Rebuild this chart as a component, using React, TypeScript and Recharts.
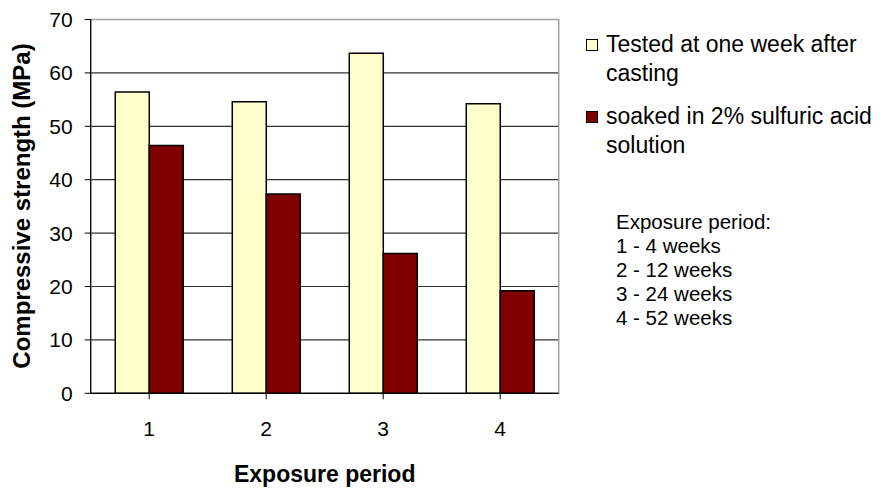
import { BarChart, Bar, XAxis, YAxis, CartesianGrid, ReferenceArea, Label } from 'recharts';

const periods = ['1', '2', '3', '4'];
const tested = [56.4, 54.6, 63.7, 54.2];
const soaked = [46.4, 37.3, 26.2, 19.2];
const seriesNames = ['Tested at one week after casting', 'soaked in 2% sulfuric acid solution'];
const seriesColors = ['#FFFFCC', '#800000'];
const yTicks = [0, 10, 20, 30, 40, 50, 60, 70];
const notes = ['Exposure period:', '1 - 4 weeks', '2 - 12 weeks', '3 - 24 weeks', '4 - 52 weeks'];

const data = periods.map((p, i) => ({ period: p, tested: tested[i], soaked: soaked[i] }));

const font = '"Liberation Sans", Arial, sans-serif';

const LegendBox = () => (
  <div style={{ position: 'absolute', left: 586, top: 30, width: 300, fontFamily: font, color: '#000' }}>
    {seriesNames.map((name, i) => (
      <div key={name} style={{ display: 'flex', alignItems: 'flex-start', marginBottom: 14 }}>
        <div
          style={{
            width: 10,
            height: 10,
            border: '1.5px solid #000',
            background: seriesColors[i],
            marginTop: 9,
            marginRight: 8,
            flexShrink: 0,
          }}
        />
        <div style={{ fontSize: 23, lineHeight: '29px', width: 280 }}>{name}</div>
      </div>
    ))}
    <div style={{ marginTop: 50, marginLeft: 30, fontSize: 20.5, lineHeight: '24px' }}>
      {notes.map((n) => (
        <div key={n}>{n}</div>
      ))}
    </div>
  </div>
);

export default function App() {
  return (
    <div style={{ position: 'absolute', left: 0, top: 0, width: 888, height: 494, background: '#fff' }}>
      <BarChart
        width={888}
        height={494}
        data={data}
        margin={{ top: 19.5, right: 329.3, left: 0, bottom: 0 }}
        barCategoryGap="21%"
        barGap={0}
        style={{ fontFamily: font }}
      >
        <CartesianGrid vertical={false} stroke="#333" strokeWidth={1.2} />
        <ReferenceArea y1={0} y2={70} fill="none" stroke="#a0a0a0" strokeWidth={1.5} />
        <XAxis
          dataKey="period"
          height={100.7}
          stroke="#000"
          tickSize={6}
          tickMargin={22}
          tick={{ fill: '#000', fontSize: 21 }}
          axisLine={{ stroke: '#000', strokeWidth: 1.2 }}
        >
          <Label value="Exposure period" position="insideBottom" offset={12} fill="#000" fontSize={23} fontWeight="bold" />
        </XAxis>
        <YAxis
          width={90.7}
          domain={[0, 70]}
          ticks={yTicks}
          stroke="#000"
          tickSize={6}
          tickMargin={12}
          tick={{ fill: '#000', fontSize: 21 }}
          axisLine={{ stroke: '#000', strokeWidth: 1.2 }}
        >
          <Label
            content={() => (
              <text
                x={21}
                y={206}
                transform="rotate(-90 21 206)"
                textAnchor="middle"
                dominantBaseline="central"
                fontSize={24}
                fontWeight="bold"
                fill="#000"
              >
                Compressive strength (MPa)
              </text>
            )}
          />
        </YAxis>
        <Bar dataKey="tested" name={seriesNames[0]} fill={seriesColors[0]} stroke="#000" strokeWidth={1.5} isAnimationActive={false} />
        <Bar dataKey="soaked" name={seriesNames[1]} fill={seriesColors[1]} stroke="#000" strokeWidth={1.5} isAnimationActive={false} />
      </BarChart>
      <LegendBox />
    </div>
  );
}
